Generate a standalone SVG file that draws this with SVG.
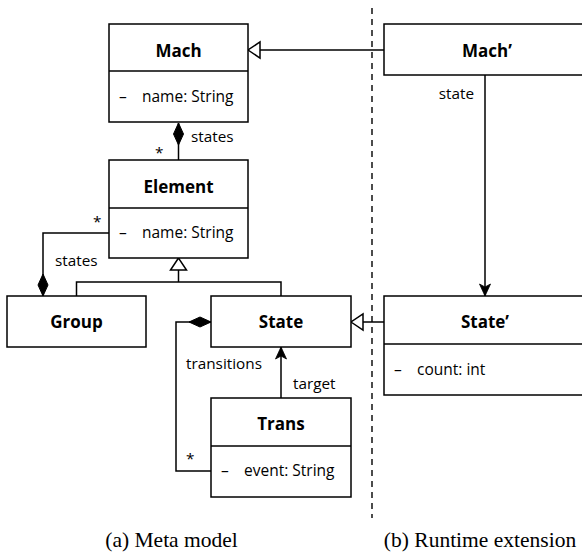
<svg xmlns="http://www.w3.org/2000/svg" width="582" height="559" viewBox="0 0 582 559">
<style>
.box{fill:#fff;stroke:#000;stroke-width:1.5}
.div{stroke:#000;stroke-width:1.5}
.title{font-family:"Open Sans",sans-serif;font-weight:bold;font-size:17px;text-anchor:middle;fill:#000}
.attr{font-family:"Open Sans",sans-serif;font-size:15.5px;fill:#000}
.lbl{font-family:"Open Sans",sans-serif;font-size:15.3px;fill:#000}
.cap{font-family:"Liberation Serif",serif;font-size:21.5px;text-anchor:middle;fill:#000}
.edge{fill:none;stroke:#000;stroke-width:1.5}
</style>
<defs>
<marker id="arrow" markerUnits="userSpaceOnUse" markerWidth="16" markerHeight="16" refX="0" refY="0" viewBox="-14 -8 16 16" orient="auto" overflow="visible">
<path d="M0,0 L-12,-5.5 L-9,0 L-12,5.5 Z" fill="#000" stroke="#000" stroke-width="0.8" stroke-linejoin="round"/>
</marker>
<marker id="tri" markerUnits="userSpaceOnUse" markerWidth="16" markerHeight="18" refX="0" refY="0" viewBox="-14 -9 16 18" orient="auto" overflow="visible">
<path d="M0,0 L-12,-8 L-12,8 Z" fill="#fff" stroke="#000" stroke-width="1.5"/>
</marker>
<marker id="diamond" markerUnits="userSpaceOnUse" markerWidth="24" markerHeight="12" refX="0" refY="0" viewBox="-1 -6 24 12" orient="auto" overflow="visible">
<path d="M0,0 L11,-5 L22,0 L11,5 Z" fill="#000" stroke="#000" stroke-width="1"/>
</marker>
</defs>

<g id="connectors">
<line x1="372" y1="8" x2="372" y2="518" stroke="#000" stroke-width="1.4" stroke-dasharray="6,5"/>
<path class="edge" d="M384,50 L248,50" marker-end="url(#tri)"/>
<path class="edge" d="M178.5,123 L178.5,160" marker-start="url(#diamond)"/>
<path class="edge" d="M178.5,282 L178.5,258" marker-end="url(#tri)"/>
<path class="edge" d="M76.5,296 L76.5,282 L281,282 L281,296"/>
<path class="edge" d="M43,296 L43,233 L109,233" marker-start="url(#diamond)"/>
<path class="edge" d="M211,322 L176,322 L176,471 L211,471" marker-start="url(#diamond)"/>
<path class="edge" d="M281,398 L281,347" marker-end="url(#arrow)"/>
<path class="edge" d="M485,75 L485,296" marker-end="url(#arrow)"/>
<path class="edge" d="M384,322 L351,322" marker-end="url(#tri)"/>
<text class="lbl" x="191" y="142">states</text>
<text class="lbl" x="155" y="158">*</text>
<text class="lbl" x="93" y="227">*</text>
<text class="lbl" x="55" y="266">states</text>
<text class="lbl" x="186" y="369">transitions</text>
<text class="lbl" x="293" y="389">target</text>
<text class="lbl" x="186" y="464">*</text>
<text class="lbl" x="474" y="99" text-anchor="end">state</text>
</g>

<g id="Mach">
<rect class="box" x="109" y="24" width="139" height="98"/>
<line class="div" x1="109" y1="71" x2="248" y2="71"/>
<text class="title" x="178.5" y="57">Mach</text>
<text class="attr" x="119" y="102">–</text>
<text class="attr" x="142" y="102">name: String</text>
</g>

<g id="Element">
<rect class="box" x="109" y="160" width="139" height="98"/>
<line class="div" x1="109" y1="208" x2="248" y2="208"/>
<text class="title" x="178.5" y="193">Element</text>
<text class="attr" x="119" y="238">–</text>
<text class="attr" x="142" y="238">name: String</text>
</g>

<g id="Group">
<rect class="box" x="7" y="296" width="139" height="51"/>
<text class="title" x="76.5" y="328">Group</text>
</g>

<g id="State">
<rect class="box" x="211" y="296" width="140" height="51"/>
<text class="title" x="281" y="328">State</text>
</g>

<g id="Trans">
<rect class="box" x="211" y="398" width="140" height="99"/>
<line class="div" x1="211" y1="446" x2="351" y2="446"/>
<text class="title" x="281" y="430">Trans</text>
<text class="attr" x="221" y="476">–</text>
<text class="attr" x="244" y="476">event: String</text>
</g>

<g id="MachPrime">
<rect class="box" x="384" y="24" width="220" height="51"/>
<text class="title" x="487" y="57">Mach’</text>
</g>

<g id="StatePrime">
<rect class="box" x="384" y="296" width="220" height="99"/>
<line class="div" x1="384" y1="344" x2="604" y2="344"/>
<text class="title" x="485" y="328">State’</text>
<text class="attr" x="394" y="375">–</text>
<text class="attr" x="417" y="375">count: int</text>
</g>

<g id="captions">
<text class="cap" x="171.5" y="547">(a) Meta model</text>
<text class="cap" x="480" y="547">(b) Runtime extension</text>
</g>
</svg>
